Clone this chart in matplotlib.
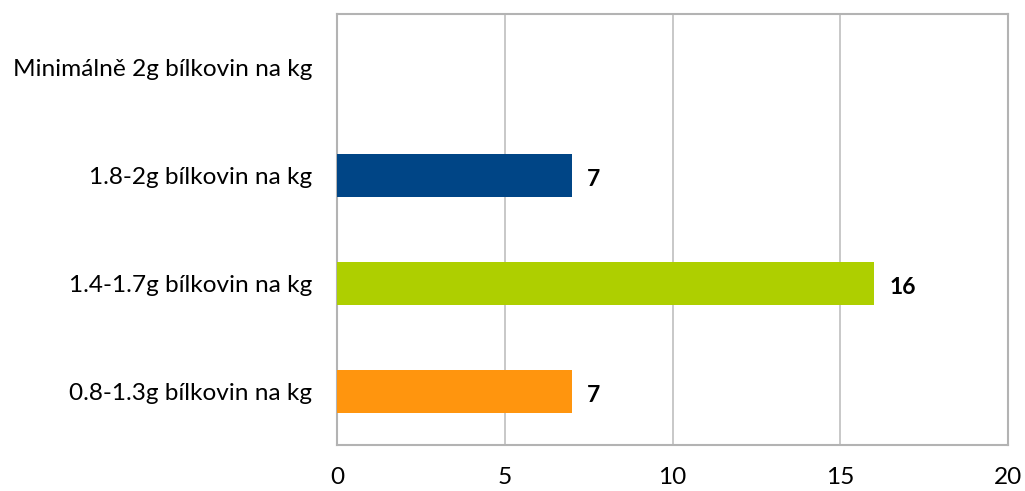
import matplotlib
matplotlib.use("Agg")
import matplotlib.pyplot as plt

categories = ["0.8-1.3g bílkovin na kg", "1.4-1.7g bílkovin na kg",
              "1.8-2g bílkovin na kg", "Minimálně 2g bílkovin na kg"]
values = [7, 16, 7, 0]
colors = ["#FF950E", "#AECF00", "#004586", "#579D1C"]
xticks = [0, 5, 10, 15, 20]

plt.rcParams['font.family'] = ['Lato', 'DejaVu Sans']

fig = plt.figure(figsize=(10.25, 4.91), dpi=100)
ax = fig.add_axes([0.3288, 0.0937, 0.6546, 0.8778])

pos = range(len(categories))
bars = ax.barh(pos, values, height=0.4, color=colors, zorder=3)
for b, v in zip(bars, values):
    if v > 0:
        ax.annotate(str(v), (b.get_width(), b.get_y() + b.get_height() / 2),
                    xytext=(11, -3), textcoords="offset points",
                    ha="left", va="center", fontsize=16.5, fontweight="bold")

ax.set_xlim(0, 20)
ax.set_ylim(-0.5, len(categories) - 0.5)
ax.set_xticks(xticks)
ax.set_yticks(list(pos))
ax.set_yticklabels(categories)
ax.tick_params(axis="both", length=0, labelsize=17.6)
ax.tick_params(axis="y", pad=18)
ax.tick_params(axis="x", pad=16)
ax.grid(axis="x", color="#BFBFBF", linewidth=1.2, zorder=0)
for s in ax.spines.values():
    s.set_color("#B3B3B3")
    s.set_linewidth(1.5)

fig.savefig("out.png", dpi=100)
